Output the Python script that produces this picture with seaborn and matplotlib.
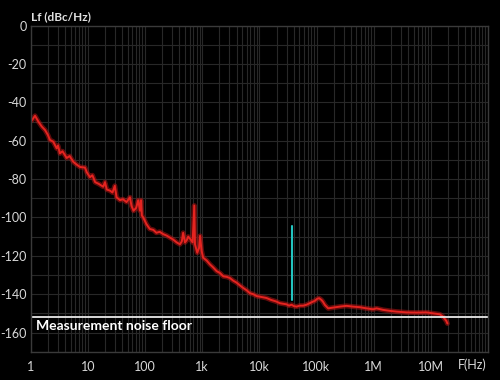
import numpy as np
import pandas as pd
import seaborn as sns
import matplotlib
matplotlib.use("Agg")
import matplotlib.pyplot as plt
from matplotlib.ticker import FixedLocator, LogLocator, NullFormatter

# ---- data ----
freq = [1.0, 1.04, 1.19, 1.36, 1.56, 1.78, 2.0, 2.17, 2.48, 2.85, 3.0, 3.25, 3.6, 4.26, 4.8,
        5.56, 6.4, 7.3, 8.9, 9.6, 10.9, 12.0, 13.4, 15.5, 18.6, 19.9, 21.5, 24.3, 27.0, 29.6,
        31.8, 36.5, 41.0, 47.5, 54.4, 58.0, 63.0, 70.0, 76.0, 81.5, 85.0, 88.0, 93.0, 106.0,
        121.0, 140.0, 158.0, 180.0, 208.0, 240.0, 272.0, 310.0, 357.0, 408.0, 440.0, 465.0,
        500.0, 533.0, 570.0, 610.0, 680.0, 728.0, 748.0, 820.0, 880.0, 918.0, 977.0, 1040.0,
        1200.0, 1370.0, 1550.0, 1790.0, 2050.0, 2340.0, 2700.0, 3060.0, 3500.0, 4000.0,
        4600.0, 5240.0, 6000.0, 6850.0, 7800.0, 8960.0, 11000.0, 13300.0, 16000.0, 19600.0,
        22800.0, 26000.0, 29900.0, 33000.0, 36600.0, 40000.0, 44700.0, 51000.0, 58300.0,
        67000.0, 76400.0, 85000.0, 93400.0, 102000.0, 111000.0, 122000.0, 130000.0, 140000.0,
        160000.0, 195000.0, 255000.0, 334000.0, 436000.0, 571000.0, 748000.0, 977000.0,
        1120000.0, 1460000.0, 1910000.0, 2500000.0, 3740000.0, 5600000.0, 8400000.0,
        10900000.0, 14300000.0, 16300000.0, 18700000.0, 19500000.0]
level = [-48.5, -49.5, -47.0, -50.0, -52.6, -54.4, -57.0, -59.6, -60.5, -64.0, -62.5, -66.6, -65.5,
         -69.0, -68.0, -71.0, -72.5, -73.7, -74.0, -76.5, -79.0, -78.0, -81.6, -82.5, -84.0,
         -81.6, -85.5, -86.0, -87.0, -83.5, -89.5, -91.0, -90.5, -92.0, -89.5, -94.0, -96.5,
         -95.0, -91.0, -96.5, -91.0, -99.0, -100.0, -103.5, -106.0, -106.5, -108.0, -107.5,
         -108.7, -109.5, -110.5, -111.5, -113.0, -114.0, -112.5, -108.0, -113.0, -112.0,
         -110.0, -111.0, -113.0, -93.8, -114.0, -118.4, -116.0, -109.6, -117.5, -121.0,
         -122.5, -124.5, -126.0, -128.0, -129.0, -130.7, -131.0, -131.6, -133.0, -134.0,
         -135.5, -136.8, -138.0, -139.5, -140.0, -141.0, -141.5, -142.0, -143.0, -143.8,
         -144.7, -145.0, -145.3, -146.0, -145.5, -146.2, -146.5, -146.0, -146.0, -145.5,
         -144.7, -144.0, -143.5, -142.5, -142.1, -143.0, -144.0, -145.6, -147.4, -147.0,
         -146.5, -146.1, -146.5, -146.8, -147.4, -147.9, -147.4, -148.2, -148.7, -149.1,
         -149.5, -149.6, -149.5, -150.0, -150.5, -151.7, -154.0, -155.3]

spike_freq = [36600.0, 36600.0]
spike_level = [-143.0, -104.5]

noise_floor = -152.0
x_ticks = [1, 10, 100, 1e3, 1e4, 1e5, 1e6, 1e7]
x_labels = ["1", "10", "100", "1k", "10k", "100k", "1M", "10M"]
y_ticks = [0, -20, -40, -60, -80, -100, -120, -140, -160]

df = pd.DataFrame({"freq": freq, "level": level})
spike = pd.DataFrame({"freq": spike_freq, "level": spike_level})

sns.set_style("dark")
plt.rcParams["font.family"] = ["Lato", "DejaVu Sans"]

fig = plt.figure(figsize=(5.0, 3.8), dpi=100, facecolor="black")
ax = fig.add_axes([0.0614, 0.0745, 0.9146, 0.858])
ax.set_facecolor("black")

ax.set_xscale("log")
ax.set_xlim(1, 1e8)
ax.set_ylim(-170, 0)

# grid
ax.xaxis.set_major_locator(FixedLocator(x_ticks))
ax.xaxis.set_minor_locator(LogLocator(base=10, subs=np.arange(2, 10)))
ax.xaxis.set_minor_formatter(NullFormatter())
ax.yaxis.set_major_locator(FixedLocator(y_ticks))
ax.yaxis.set_minor_locator(FixedLocator(list(range(-170, 1, 10))))
ax.grid(True, which="both", color="#282828", linewidth=0.8)
ax.set_axisbelow(True)

sns.lineplot(data=df, x="freq", y="level", ax=ax, color="#b01414", linewidth=3.6,
             estimator=None, sort=False, alpha=0.55)
sns.lineplot(data=df, x="freq", y="level", ax=ax, color="#e52420", linewidth=1.4,
             estimator=None, sort=False)
sns.lineplot(data=spike, x="freq", y="level", ax=ax, color="#22c4c0", linewidth=1.5,
             estimator=None, sort=False)

ax.axhline(noise_floor, color="#e8e8e8", linewidth=1.3)
ax.text(1.25, noise_floor - 1.5, "Measurement noise floor", color="white", fontsize=10,
        fontweight="bold", va="top", ha="left")

ax.set_xticks(x_ticks)
ax.set_xticklabels(x_labels)
ax.set_yticks(y_ticks)
ax.set_yticklabels([str(v) for v in y_ticks])
ax.tick_params(axis="both", which="both", length=0, colors="#d8d8d8", labelsize=9)
ax.tick_params(axis="x", pad=7)
ax.tick_params(axis="y", pad=3)
ax.set_xlabel("")
ax.set_ylabel("")

for s in ax.spines.values():
    s.set_visible(True)
    s.set_color("#3a3a3a")
    s.set_linewidth(1.0)

ax.text(0.0, 1.012, "Lf (dBc/Hz)", transform=ax.transAxes, color="#e0e0e0",
        fontsize=8.5, fontweight="bold", ha="left", va="bottom")
ax.text(0.965, -0.0215, "F(Hz)", transform=ax.transAxes, color="#d8d8d8",
        fontsize=9, ha="center", va="top")

fig.savefig("out.png", dpi=100, facecolor="black")
